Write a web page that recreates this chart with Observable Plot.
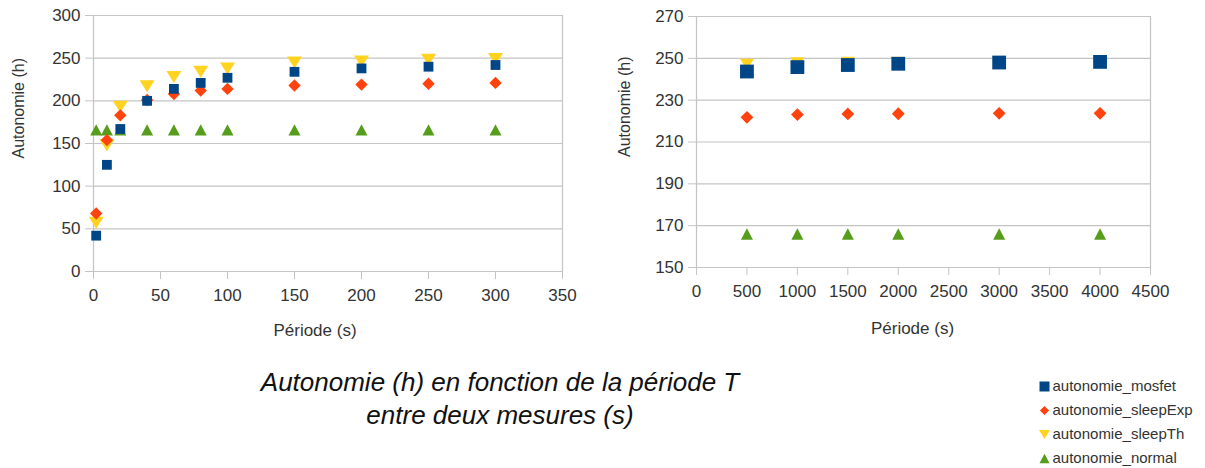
<!DOCTYPE html>
<html>
<head>
<meta charset="utf-8">
<script src="https://cdn.jsdelivr.net/npm/d3@7"></script>
<script src="https://cdn.jsdelivr.net/npm/@observablehq/plot@0.6"></script>
<style>
  html, body { margin: 0; padding: 0; background: #fff; }
  #root { position: relative; width: 1205px; height: 468px; overflow: hidden; background: #fff;
          font-family: "Liberation Sans", Arial, sans-serif; color: #333; }
  #left, #right, #legend { position: absolute; }
  #left { left: 0; top: 0; }
  #right { left: 600px; top: 0; }
  #legend { left: 1025px; top: 370px; }
  #caption { position: absolute; left: 0; top: 366px; width: 1000px; text-align: center;
             font-style: italic; font-size: 26px; line-height: 33px; color: #111; }
</style>
</head>
<body>
<div id="root">
  <div id="left"></div>
  <div id="right"></div>
  <div id="caption">Autonomie (h) en fonction de la période T<br>entre deux mesures (s)</div>
  <div id="legend"></div>
</div>
<script>
// ---------- data ----------
const seriesNames = ["autonomie_mosfet", "autonomie_sleepExp", "autonomie_sleepTh", "autonomie_normal"];
const seriesColors = ["#004586", "#ff420e", "#ffd320", "#579d1c"];

const leftPeriods = [2, 10, 20, 40, 60, 80, 100, 150, 200, 250, 300];
const leftMosfet   = [42, 125, 167, 200, 214, 221, 227, 234, 238, 240, 242];
const leftSleepExp = [68, 154, 183, 201, 208, 212, 214, 218, 219, 220, 221];
const leftSleepTh  = [57, 148, 193, 217, 228, 234, 238, 245, 246, 248, 249];
const leftNormal   = [166, 166, 166, 166, 166, 166, 166, 166, 166, 166, 166];

const rightPeriods  = [500, 1000, 1500, 2000, 3000, 4000];
const rightMosfet   = [243.7, 245.8, 246.8, 247.4, 248.0, 248.3];
const rightSleepExp = [221.8, 223.1, 223.4, 223.5, 223.7, 223.7];
const rightSleepTh  = [247.1, 247.8, 248.1, 248.1, 248.3, 248.4];
const rightNormal   = [166, 166, 166, 166, 166, 166];

const leftXTicks  = [0, 50, 100, 150, 200, 250, 300, 350];
const leftYTicks  = [0, 50, 100, 150, 200, 250, 300];
const rightXTicks = [0, 500, 1000, 1500, 2000, 2500, 3000, 3500, 4000, 4500];
const rightYTicks = [150, 170, 190, 210, 230, 250, 270];

const yLabel = "Autonomie (h)";
const xLabel = "Période (s)";

// ---------- helpers ----------
const gridColor = "#c4c4c4";
const textColor = "#333";
const font = '"Liberation Sans", Arial, sans-serif';

const rOf = size => Math.sqrt(size / Math.PI);
const symSquare = { draw(c, size) { const r = rOf(size); c.rect(-r, -r, 2 * r, 2 * r); } };
const symDiamond = { draw(c, size) { const r = rOf(size); c.moveTo(0, -r); c.lineTo(r, 0); c.lineTo(0, r); c.lineTo(-r, 0); c.closePath(); } };
const symTriDown = { draw(c, size) { const r = rOf(size); c.moveTo(-r, -0.8 * r); c.lineTo(r, -0.8 * r); c.lineTo(0, 0.8 * r); c.closePath(); } };
const symTriUp = { draw(c, size) { const r = rOf(size); c.moveTo(0, -0.95 * r); c.lineTo(r, 0.95 * r); c.lineTo(-r, 0.95 * r); c.closePath(); } };

const rows = (xs, ys) => xs.map((x, i) => ({ x, y: ys[i] }));

function chart({ width, height, marginLeft, marginRight, marginTop, marginBottom,
                 xDomain, yDomain, xTicks, yTicks, series, sizes, yLabelDx, yLabelDy, xLabelDx, xLabelDy }) {
  const [rSq, rDia, rDown, rUp] = sizes;
  return Plot.plot({
    width, height, marginLeft, marginRight, marginTop, marginBottom,
    style: { fontFamily: font, color: textColor, background: "#fff", overflow: "visible" },
    x: { domain: xDomain },
    y: { domain: yDomain },
    marks: [
      Plot.ruleY(yTicks, { stroke: gridColor, strokeWidth: 1.2 }),
      Plot.ruleX([xDomain[0], xDomain[1]], { stroke: gridColor, strokeWidth: 1.2 }),
      Plot.axisY({ ticks: yTicks, tickSize: 8, tickPadding: 5, tickFormat: "d", stroke: gridColor, fill: textColor, fontSize: 17, label: null }),
      Plot.axisX({ ticks: xTicks, tickSize: 8, tickPadding: 9, tickFormat: "d", stroke: gridColor, fill: textColor, fontSize: 17, label: null }),
      Plot.dot(series.normal, { x: "x", y: "y", symbol: symTriUp, r: rUp, fill: seriesColors[3], stroke: "none" }),
      Plot.dot(series.sleepTh, { x: "x", y: "y", symbol: symTriDown, r: rDown, fill: seriesColors[2], stroke: "none" }),
      Plot.dot(series.sleepExp, { x: "x", y: "y", symbol: symDiamond, r: rDia, fill: seriesColors[1], stroke: "none" }),
      Plot.dot(series.mosfet, { x: "x", y: "y", symbol: symSquare, r: rSq, fill: seriesColors[0], stroke: "none" }),
      Plot.text([yLabel], { frameAnchor: "left", rotate: -90, dx: yLabelDx, dy: yLabelDy, fontSize: 16, fill: textColor }),
      Plot.text([xLabel], { frameAnchor: "bottom", lineAnchor: "bottom", dx: xLabelDx, dy: xLabelDy, fontSize: 17, fill: textColor })
    ]
  });
}

const leftSeries = {
  mosfet: rows(leftPeriods, leftMosfet),
  sleepExp: rows(leftPeriods, leftSleepExp),
  sleepTh: rows(leftPeriods, leftSleepTh),
  normal: rows(leftPeriods, leftNormal)
};
const rightSeries = {
  mosfet: rows(rightPeriods, rightMosfet),
  sleepExp: rows(rightPeriods, rightSleepExp),
  sleepTh: rows(rightPeriods, rightSleepTh),
  normal: rows(rightPeriods, rightNormal)
};

document.getElementById("left").append(chart({
  width: 585, height: 345, marginLeft: 93, marginRight: 23, marginTop: 15, marginBottom: 74,
  xDomain: [0, 350], yDomain: [0, 300], xTicks: leftXTicks, yTicks: leftYTicks, series: leftSeries,
  sizes: [4.9, 6.2, 7.5, 6],
  yLabelDx: -75, yLabelDy: 15, xLabelDx: -13, xLabelDy: 64
}));

document.getElementById("right").append(chart({
  width: 575, height: 345, marginLeft: 96, marginRight: 25, marginTop: 16, marginBottom: 78,
  xDomain: [0, 4500], yDomain: [150, 270], xTicks: rightXTicks, yTicks: rightYTicks, series: rightSeries,
  sizes: [6.9, 6.4, 7, 6],
  yLabelDx: -72, yLabelDy: 15, xLabelDx: -11, xLabelDy: 66
}));

// ---------- legend ----------
const legendSymbols = [symSquare, symDiamond, symTriDown, symTriUp];
const legendSizes = [5, 4.6, 5.5, 5];
document.getElementById("legend").append(Plot.plot({
  width: 180, height: 98, margin: 0,
  style: { fontFamily: font, color: textColor, background: "transparent" },
  x: { type: "identity" },
  y: { type: "point", domain: seriesNames, range: [15, 88], padding: 0 },
  axis: null,
  marks: [
    ...seriesNames.map((name, i) => Plot.dot([name], {
      x: () => 19, y: d => d, symbol: legendSymbols[i], r: legendSizes[i], fill: seriesColors[i], stroke: "none"
    })),
    Plot.text(seriesNames, { x: () => 27, y: d => d, text: d => d, textAnchor: "start", fontSize: 15, fill: textColor })
  ]
}));
</script>
</body>
</html>
